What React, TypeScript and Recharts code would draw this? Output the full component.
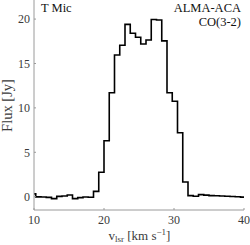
import React from "react";
import { ComposedChart, Line, XAxis, YAxis, Label } from "recharts";

// Channel left edges (km/s) and flux (Jy) of the CO(3-2) spectrum
const velocity = [
  9.5, 10.25, 11.0, 11.75, 12.5, 13.25, 14.0, 14.75, 15.5, 16.25, 17.0, 17.75,
  18.5, 19.25, 20.0, 20.75, 21.5, 22.25, 23.0, 23.75, 24.5, 25.25, 26.0, 26.75,
  27.5, 28.25, 29.0, 29.75, 30.5, 31.25, 32.0, 32.75, 33.5, 34.25, 35.0, 35.75,
  36.5, 37.25, 38.0, 38.75, 39.5, 40.25,
];
const flux = [
  0.32, -0.02, -0.04, -0.08, -0.22, 0.04, 0.08, 0.19, -0.22, -0.11, -0.03, -0.07,
  0.6, 2.75, 6.3, 11.7, 15.95, 17.05, 19.4, 18.4, 17.95, 17.2, 17.65, 19.95,
  19.9, 17.55, 11.7, 10.75, 7.2, 1.65, 0.12, 0.05, 0.23, 0.17, 0.12, 0.1,
  0.08, 0.05, 0.02, 0.0, -0.05, -0.1,
];
const xTicks = [10, 20, 30, 40];
const yTicks = [0, 5, 10, 15, 20];
const sourceName = "T Mic";
const instrument = "ALMA-ACA";
const lineName = "CO(3-2)";

const data = velocity.map((v, i) => ({ v, f: flux[i] }));

const FONT = "'Liberation Serif', 'DejaVu Serif', serif";
const AXIS_COLOR = "#9a9a9a";
const TEXT_COLOR = "#3a3a3a";

const XLabel = (props: any) => {
  const vb = props.viewBox || {};
  const cx = vb.x + vb.width / 2 + 0.5;
  const y = vb.y + 29.5;
  return (
    <text x={cx} y={y} textAnchor="middle" fontFamily={FONT} fontSize={13} fill={TEXT_COLOR}>
      <tspan>v</tspan>
      <tspan fontSize={9} dy={2.5}>lsr</tspan>
      <tspan dy={-2.5}> [km s</tspan>
      <tspan fontSize={9} dy={-5}>−1</tspan>
      <tspan dy={5}>]</tspan>
    </text>
  );
};

const YLabel = (props: any) => {
  const vb = props.viewBox || {};
  const cx = 12;
  const cy = vb.y + 105.5;
  return (
    <text
      x={cx}
      y={cy}
      textAnchor="middle"
      fontFamily={FONT}
      fontSize={14.5}
      fill={TEXT_COLOR}
      transform={`rotate(-90 ${cx} ${cy})`}
    >
      Flux [Jy]
    </text>
  );
};

export default function App() {
  return (
    <div style={{ position: "absolute", left: 0, top: 0, width: 250, height: 245, background: "#fff" }}>
      <ComposedChart
        width={250}
        height={245}
        data={data}
        margin={{ top: 0, right: 6, bottom: 0, left: 0 }}
      >
        <XAxis
          xAxisId="b"
          dataKey="v"
          type="number"
          domain={[10, 40]}
          ticks={xTicks}
          allowDataOverflow
          height={35}
          stroke={AXIS_COLOR}
          tickSize={-2}
          tickMargin={7.5}
          tick={{ fill: TEXT_COLOR, fontFamily: FONT, fontSize: 12 }}
        >
          <Label content={XLabel} />
        </XAxis>
        <XAxis
          xAxisId="t"
          dataKey="v"
          type="number"
          orientation="top"
          domain={[10, 40]}
          ticks={xTicks}
          allowDataOverflow
          height={0}
          stroke={AXIS_COLOR}
          tickSize={-2}
          tick={false}
        />
        <YAxis
          yAxisId="l"
          type="number"
          domain={[-1.5, 22.15]}
          ticks={yTicks}
          allowDataOverflow
          width={34}
          stroke={AXIS_COLOR}
          tickSize={-2}
          tickMargin={6}
          tick={{ fill: TEXT_COLOR, fontFamily: FONT, fontSize: 12 }}
        >
          <Label content={YLabel} />
        </YAxis>
        <YAxis
          yAxisId="r"
          type="number"
          orientation="right"
          domain={[-1.5, 22.15]}
          ticks={yTicks}
          allowDataOverflow
          width={0}
          stroke={AXIS_COLOR}
          tickSize={-2}
          tick={false}
        />
        <Line
          xAxisId="b"
          yAxisId="l"
          type="stepAfter"
          dataKey="f"
          stroke="#000"
          strokeWidth={1.6}
          dot={false}
          activeDot={false}
          isAnimationActive={false}
        />
      </ComposedChart>
      <div
        style={{
          position: "absolute",
          left: 41,
          top: 1,
          fontFamily: FONT,
          fontSize: 12.5,
          lineHeight: "14px",
          color: "#111",
        }}
      >
        {sourceName}
      </div>
      <div
        style={{
          position: "absolute",
          right: 9,
          top: 1,
          fontFamily: FONT,
          fontSize: 12.5,
          lineHeight: "14px",
          color: "#111",
          textAlign: "right",
        }}
      >
        <div>{instrument}</div>
        <div>{lineName}</div>
      </div>
    </div>
  );
}
